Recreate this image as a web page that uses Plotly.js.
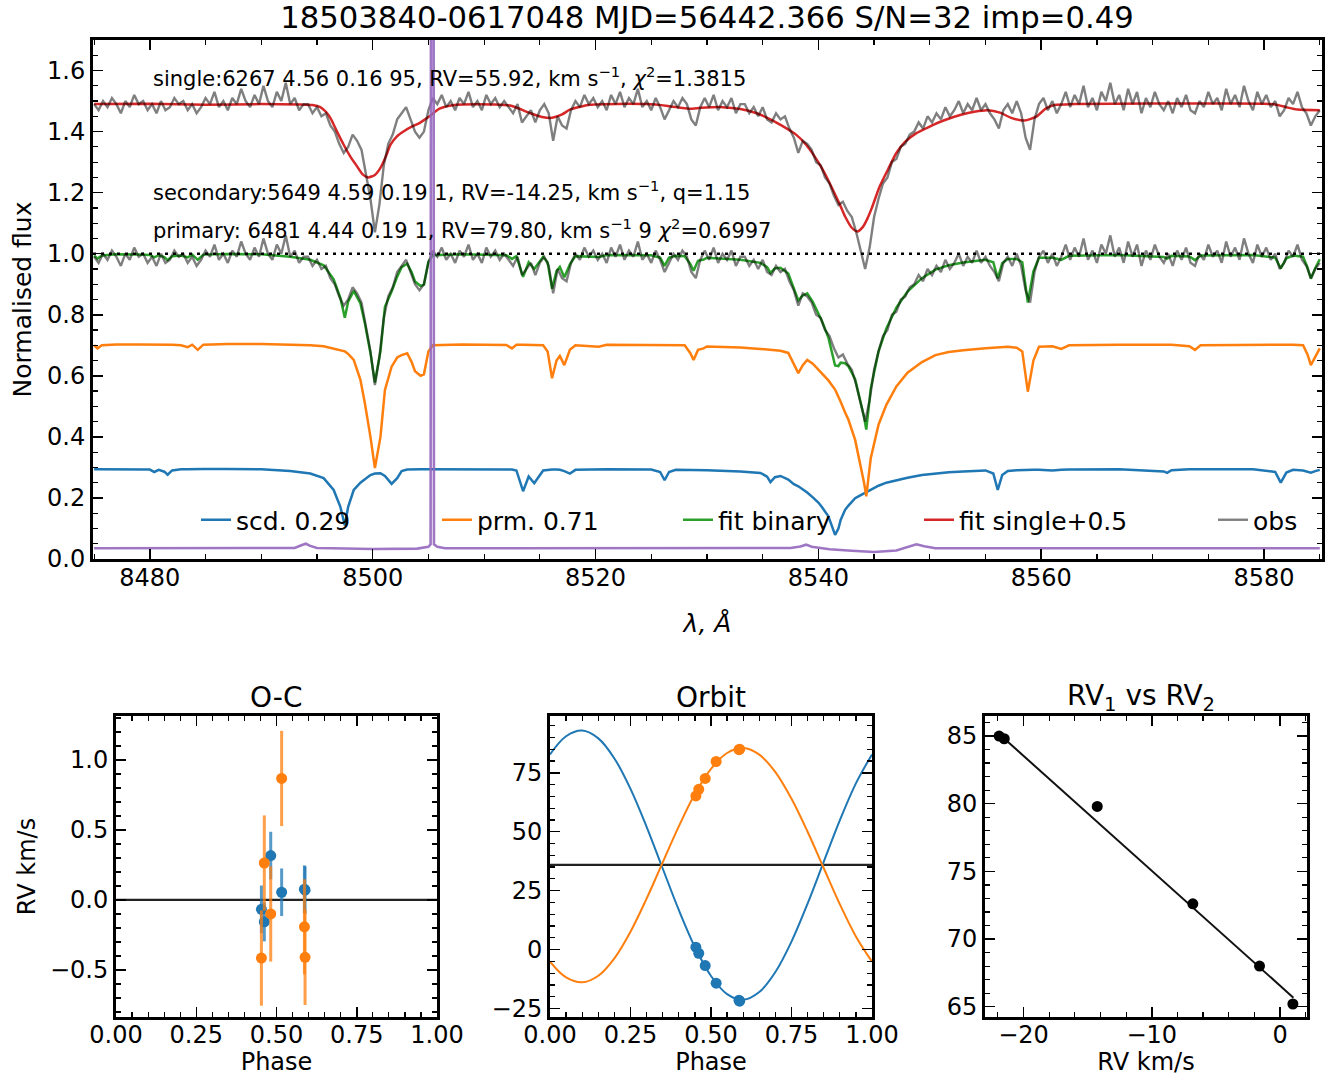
<!DOCTYPE html>
<html><head><meta charset="utf-8">
<script src="https://cdn.plot.ly/plotly-3.0.1.min.js"></script>
<style>html,body{margin:0;padding:0;background:#fff}#chart{width:1333px;height:1076px}</style>
</head><body><div id="chart"></div>
<script>
// ================= DATA =================
const titleText = '18503840-0617048 MJD=56442.366 S/N=32 imp=0.49';

// model wavelength grid (Angstrom) shared by the two component spectra
const modelLam = [
8475.0,8475.3,8475.7,8477.0,8479.0,8480.0,8480.4,8480.8,8481.3,8481.6,
8482.0,8482.8,8483.4,8483.8,8484.3,8484.8,8487.0,8490.0,8492.6,8494.4,
8495.6,8496.5,8497.1,8497.5,8497.8,8498.3,8498.9,8499.3,8499.8,8500.2,
8500.7,8501.1,8501.7,8502.2,8502.6,8503.1,8503.5,8503.8,8504.3,8504.6,
8505.0,8505.4,8508.0,8512.0,8512.5,8512.9,8513.5,8514.0,8514.5,8515.3,
8515.7,8516.1,8516.5,8516.8,8517.2,8517.7,8518.2,8520.3,8521.0,8525.0,
8525.8,8526.2,8526.6,8527.2,8528.0,8528.5,8528.8,8529.2,8529.7,8530.0,
8533.0,8534.8,8535.4,8535.7,8536.1,8536.6,8537.3,8537.8,8538.2,8538.6,
8539.0,8539.5,8540.0,8540.3,8540.9,8541.5,8541.8,8542.0,8542.4,8542.7,
8543.3,8543.6,8544.1,8544.3,8544.7,8545.4,8546.1,8547.0,8548.0,8549.3,
8550.5,8551.7,8553.0,8555.0,8555.7,8556.1,8556.5,8557.0,8557.8,8558.3,
8558.8,8559.3,8559.8,8561.0,8561.8,8562.5,8567.0,8571.0,8571.3,8571.7,
8573.3,8573.8,8574.3,8579.0,8581.0,8581.5,8582.0,8582.6,8583.5,8583.9,
8584.2,8584.6,8585.0];

// secondary component (weighted, scd. 0.29)
const scdFlux = [
0.294,0.294,0.294,0.295,0.294,0.293,0.285,0.292,0.286,0.276,
0.290,0.294,0.294,0.295,0.295,0.295,0.295,0.294,0.288,0.280,
0.265,0.226,0.171,0.110,0.171,0.226,0.250,0.262,0.275,0.280,
0.281,0.272,0.246,0.265,0.288,0.293,0.294,0.294,0.294,0.294,
0.294,0.295,0.295,0.294,0.293,0.290,0.222,0.270,0.248,0.290,
0.292,0.293,0.293,0.292,0.288,0.280,0.292,0.294,0.294,0.293,
0.285,0.258,0.285,0.292,0.292,0.292,0.292,0.292,0.291,0.291,
0.287,0.282,0.270,0.252,0.268,0.272,0.260,0.245,0.238,0.228,
0.218,0.202,0.185,0.171,0.140,0.079,0.100,0.128,0.161,0.175,
0.199,0.205,0.215,0.219,0.228,0.240,0.250,0.258,0.266,0.275,
0.280,0.284,0.287,0.290,0.280,0.226,0.275,0.288,0.291,0.292,
0.292,0.292,0.292,0.290,0.292,0.293,0.294,0.287,0.282,0.291,
0.294,0.294,0.294,0.294,0.285,0.250,0.283,0.292,0.290,0.285,
0.283,0.288,0.292];

// primary component (weighted, prm. 0.71)
const prmFlux = [
0.700,0.690,0.700,0.703,0.703,0.703,0.703,0.703,0.703,0.703,
0.702,0.700,0.694,0.702,0.685,0.702,0.704,0.704,0.702,0.700,
0.697,0.690,0.684,0.680,0.672,0.652,0.587,0.510,0.400,0.298,
0.400,0.554,0.630,0.660,0.668,0.674,0.645,0.615,0.600,0.605,
0.680,0.700,0.703,0.701,0.690,0.702,0.702,0.702,0.702,0.700,
0.680,0.592,0.650,0.665,0.635,0.685,0.700,0.695,0.702,0.702,
0.702,0.702,0.702,0.701,0.700,0.675,0.652,0.685,0.690,0.696,
0.693,0.688,0.686,0.685,0.684,0.682,0.675,0.640,0.609,0.635,
0.652,0.640,0.620,0.610,0.585,0.555,0.532,0.515,0.480,0.456,
0.390,0.340,0.250,0.205,0.330,0.440,0.505,0.565,0.610,0.645,
0.668,0.678,0.684,0.690,0.692,0.693,0.694,0.695,0.692,0.680,
0.548,0.650,0.695,0.697,0.688,0.700,0.702,0.702,0.702,0.702,
0.697,0.685,0.700,0.702,0.702,0.702,0.702,0.702,0.700,0.670,
0.635,0.665,0.690];

// single-star fit, shown shifted by +0.5
const singleLam = [
8475.0,8480.0,8485.0,8490.0,8493.5,8494.6,8495.3,8495.8,8496.2,8496.8,
8497.4,8498.0,8498.6,8499.1,8499.6,8500.2,8500.7,8501.2,8501.6,8502.2,
8502.8,8503.5,8504.2,8505.1,8506.0,8507.5,8511.0,8512.5,8514.1,8515.2,
8516.1,8517.0,8517.7,8519.5,8524.6,8526.5,8528.4,8529.5,8531.4,8533.0,
8534.4,8535.6,8536.8,8538.0,8538.9,8539.6,8540.3,8540.9,8541.5,8542.0,
8542.4,8543.0,8543.5,8544.0,8544.4,8544.8,8545.5,8546.3,8547.0,8547.8,
8548.8,8549.9,8551.3,8552.8,8554.0,8555.2,8556.3,8557.3,8558.5,8559.6,
8560.4,8561.2,8563.0,8570.0,8575.0,8580.0,8581.0,8582.0,8583.0,8585.0];
const singleFlux = [
1.490,1.491,1.488,1.490,1.489,1.487,1.480,1.465,1.445,1.400,
1.357,1.318,1.286,1.260,1.250,1.258,1.281,1.320,1.357,1.385,
1.401,1.416,1.428,1.450,1.475,1.488,1.489,1.484,1.461,1.448,
1.445,1.456,1.472,1.488,1.490,1.484,1.475,1.478,1.480,1.474,
1.461,1.442,1.418,1.390,1.357,1.322,1.281,1.240,1.194,1.155,
1.122,1.085,1.073,1.088,1.115,1.150,1.220,1.280,1.330,1.367,
1.395,1.415,1.437,1.455,1.465,1.470,1.462,1.445,1.436,1.450,
1.475,1.487,1.490,1.492,1.492,1.491,1.489,1.480,1.472,1.470];

// observed spectrum on a regular 0.4 A grid starting at 8475.0
const obsStart = 8475.0, obsStep = 0.4;
const obsFlux = [
0.99,0.97,1.00,0.98,1.01,0.99,0.96,1.00,0.98,1.02,
0.99,1.00,0.97,0.99,0.96,1.00,0.97,0.98,1.01,0.99,
1.00,0.97,0.99,0.96,0.98,1.01,0.99,1.03,0.98,1.00,
0.97,1.01,0.99,1.04,1.00,0.98,1.02,0.99,1.05,1.00,
0.98,1.03,1.00,1.06,0.99,1.01,0.97,0.99,
0.99,0.96,0.98,0.95,0.96,0.92,0.90,0.86,0.83,0.85,
0.89,0.87,0.84,0.76,0.68,0.57,0.66,0.79,0.86,0.89,
0.94,0.96,0.98,0.94,0.90,0.88,0.90,0.97,1.01,0.99,
1.02,
0.98,1.00,0.97,1.01,0.99,1.03,0.98,1.00,0.97,1.02,
0.99,1.01,0.98,1.00,0.98,0.96,0.99,0.93,0.95,0.97,
0.93,0.97,0.99,0.96,0.87,0.95,0.92,0.91,0.97,1.00,
0.98,1.02,0.99,1.01,0.98,1.00,0.97,1.02,0.99,1.03,
0.98,1.01,0.99,1.04,0.98,1.00,0.97,1.01,0.98,0.94,
0.97,1.00,0.98,1.01,0.99,0.94,0.92,0.98,1.01,0.98,
1.02,0.97,1.00,0.98,1.01,0.96,0.99,
0.99,0.96,0.98,0.95,0.98,0.94,0.93,0.96,0.94,0.95,
0.91,0.88,0.83,0.87,0.86,0.84,0.80,0.79,0.75,0.73,
0.69,0.66,0.67,0.64,0.62,0.57,0.51,0.45,0.52,0.62,
0.68,0.73,0.75,0.80,0.81,0.85,0.86,0.89,0.90,0.93,
0.91,0.95,0.93,0.96,0.94,0.98,0.95,0.97,1.00,0.96,
0.99,0.97,1.01,0.97,0.99,0.96,0.94,0.91,
0.97,0.99,0.96,1.00,0.96,0.88,0.84,0.94,0.99,1.01,
0.97,1.00,0.96,0.99,1.03,0.98,1.02,0.99,1.05,0.98,
1.01,0.97,1.03,1.00,1.06,0.99,1.02,0.97,1.04,0.99,
1.03,0.96,1.01,0.98,1.03,0.99,0.97,1.00,0.96,1.01,
0.98,1.02,0.97,0.96,1.00,0.98,1.03,0.99,1.01,0.97,
1.04,0.99,1.02,0.98,1.05,1.00,0.97,1.03,0.99,1.02,
0.98,1.00,0.95,0.97,1.01,0.99,1.03,0.98,0.96,0.92,
0.95,0.97];
const obsOffset = 0.5;

// purple mask / weight curve
const maskLam = [8475.0,8485.0,8493.0,8493.6,8494.0,8494.4,8495.0,8500.0,8504.0,8505.0,
8505.2,8505.25,8505.45,8505.5,8505.8,8506.5,8520.0,8537.5,8538.4,8538.9,
8539.4,8541.0,8543.0,8545.0,8547.0,8548.2,8548.8,8549.5,8550.5,8560.0,8585.0];
const maskFlux = [0.035,0.035,0.036,0.045,0.050,0.043,0.036,0.033,0.034,0.040,
0.048,3.0,3.0,0.048,0.040,0.035,0.035,0.036,0.041,0.047,
0.040,0.032,0.027,0.023,0.028,0.042,0.048,0.042,0.035,0.035,0.035];

const legendNames = ['scd. 0.29','prm. 0.71','fit binary','fit single+0.5','obs'];
const noteSingle = 'single:6267 4.56 0.16 95, RV=55.92, km s<sup>−1</sup>, <i>χ</i><sup>2</sup>=1.3815';
const noteSecondary = 'secondary:5649 4.59 0.19 1, RV=-14.25, km s<sup>−1</sup>, q=1.15';
const notePrimary = 'primary: 6481 4.44 0.19 1, RV=79.80, km s<sup>−1</sup> 9 <i>χ</i><sup>2</sup>=0.6997';

// radial-velocity measurements
const obsPhase = [0.453,0.462,0.482,0.516,0.587,0.589];
const rvPrm = [65.2,68.0,72.6,79.8,84.8,85.0];
const rvScd = [1.0,-1.6,-6.8,-14.25,-21.5,-21.9];
const ocScd = [-0.067,-0.156,0.317,0.055,0.077,0.070];
const ocScdErr = [0.17,0.14,0.17,0.17,0.17,0.17];
const ocPrm = [-0.415,0.264,-0.100,0.868,-0.192,-0.410];
const ocPrmErr = [0.34,0.34,0.34,0.34,0.34,0.34];

// orbit curves
const orbitPhase = [0,0.05,0.10,0.15,0.20,0.25,0.30,0.35,0.40,0.45,0.50,0.55,0.60,0.65,0.70,0.75,0.80,0.85,0.90,0.95,1.00];
const orbitScd = [82.8,90.5,92.9,89.6,81.1,68.2,52.1,34.4,16.8,1.1,-11.2,-18.9,-21.3,-18.0,-9.5,3.4,19.5,37.2,54.8,70.5,82.8];
const orbitPrm = [-5.1,-11.8,-13.9,-11.1,-3.7,7.6,21.6,37.0,52.3,66.0,76.7,83.4,85.5,82.7,75.3,64.0,50.0,34.6,19.3,5.6,-5.1];
const gammaRV = 35.9;

// RV1 vs RV2 linear fit
const rvFitX = [-21.9, 1.04];
const rvFitY = [85.15, 65.67];

// ================= DRAWING =================
const W = 1333, H = 1076;
const C = {blue:'#1f77b4', orange:'#ff7f0e', green:'#2ca02c', red:'#d62728', purple:'rgba(148,103,189,0.9)', obs:'rgba(0,0,0,0.5)'};
const FONT = 'DejaVu Sans, Verdana, sans-serif';

const fitBinary = scdFlux.map((v,i) => v + prmFlux[i]);
const obsLam = obsFlux.map((_,i) => Math.round((obsStart + i*obsStep)*100)/100);
const obsTop = obsFlux.map(v => v + obsOffset);

const X0 = 8474.9, X1 = 8585.2;

const traces = [
  {x:modelLam, y:scdFlux, type:'scatter', mode:'lines', name:legendNames[0], legend:'legend', line:{color:C.blue, width:2.5}, xaxis:'x', yaxis:'y'},
  {x:modelLam, y:prmFlux, type:'scatter', mode:'lines', name:legendNames[1], legend:'legend', line:{color:C.orange, width:2.5}, xaxis:'x', yaxis:'y'},
  {x:modelLam, y:fitBinary, type:'scatter', mode:'lines', name:legendNames[2], legend:'legend', line:{color:C.green, width:2.5}, xaxis:'x', yaxis:'y'},
  {x:singleLam, y:singleFlux, type:'scatter', mode:'lines', name:legendNames[3], legend:'legend', line:{color:C.red, width:2.5, shape:'spline', smoothing:0.6}, xaxis:'x', yaxis:'y'},
  {x:obsLam, y:obsFlux, type:'scatter', mode:'lines', name:legendNames[4], legend:'legend2', line:{color:C.obs, width:2.4}, xaxis:'x', yaxis:'y'},
  {x:obsLam, y:obsTop, type:'scatter', mode:'lines', showlegend:false, line:{color:C.obs, width:2.4}, xaxis:'x', yaxis:'y'},
  {x:[X0, X1], y:[1,1], type:'scatter', mode:'lines', showlegend:false, line:{color:'#000', width:2.4, dash:'3px,5px'}, xaxis:'x', yaxis:'y'},
  {x:maskLam, y:maskFlux, type:'scatter', mode:'lines', showlegend:false, line:{color:C.purple, width:2.6}, xaxis:'x', yaxis:'y'},

  // O-C
  {x:[0,1], y:[0,0], type:'scatter', mode:'lines', showlegend:false, line:{color:'#222', width:2.2}, xaxis:'x2', yaxis:'y2'},
  {x:obsPhase, y:ocScd, type:'scatter', mode:'markers', showlegend:false, marker:{color:C.blue, size:11},
   error_y:{type:'data', array:ocScdErr, visible:true, thickness:3, width:0, color:'rgba(31,119,180,0.75)'}, xaxis:'x2', yaxis:'y2'},
  {x:obsPhase, y:ocPrm, type:'scatter', mode:'markers', showlegend:false, marker:{color:C.orange, size:11},
   error_y:{type:'data', array:ocPrmErr, visible:true, thickness:3, width:0, color:'rgba(255,127,14,0.75)'}, xaxis:'x2', yaxis:'y2'},

  // Orbit
  {x:[0,1], y:[gammaRV,gammaRV], type:'scatter', mode:'lines', showlegend:false, line:{color:'#222', width:2.2}, xaxis:'x3', yaxis:'y3'},
  {x:orbitPhase, y:orbitScd, type:'scatter', mode:'lines', showlegend:false, line:{color:C.blue, width:2, shape:'spline', smoothing:1}, xaxis:'x3', yaxis:'y3'},
  {x:orbitPhase, y:orbitPrm, type:'scatter', mode:'lines', showlegend:false, line:{color:C.orange, width:2, shape:'spline', smoothing:1}, xaxis:'x3', yaxis:'y3'},
  {x:obsPhase, y:rvScd, type:'scatter', mode:'markers', showlegend:false, marker:{color:C.blue, size:11}, xaxis:'x3', yaxis:'y3'},
  {x:obsPhase, y:rvPrm, type:'scatter', mode:'markers', showlegend:false, marker:{color:C.orange, size:11}, xaxis:'x3', yaxis:'y3'},

  // RV1 vs RV2
  {x:rvFitX, y:rvFitY, type:'scatter', mode:'lines', showlegend:false, line:{color:'#111', width:2}, xaxis:'x4', yaxis:'y4'},
  {x:rvScd, y:rvPrm, type:'scatter', mode:'markers', showlegend:false, marker:{color:'#000', size:11}, xaxis:'x4', yaxis:'y4'}
];

const MINOR = {ticks:'inside', ticklen:5, tickwidth:1.2, tickcolor:'#000', showgrid:false};
function ax(extra){
  return Object.assign({
    showline:true, linecolor:'#000', linewidth:3, mirror:'allticks',
    ticks:'inside', ticklen:10, tickwidth:1.5, tickcolor:'#000',
    showgrid:false, zeroline:false,
    tickfont:{family:FONT, size:24, color:'#000'}
  }, extra);
}
function mn(t0, dt){ return Object.assign({}, MINOR, {tick0:t0, dtick:dt}); }
function ttl(t, size, standoff){ const o = {text:t, font:{family:FONT, size:size||25, color:'#000'}}; if (standoff!==undefined) o.standoff = standoff; return o; }

const legendCommon = {orientation:'h', yanchor:'middle', font:{family:FONT, size:25, color:'#000'}, bgcolor:'rgba(0,0,0,0)', borderwidth:0, traceorder:'normal'};

const layout = {
  width:W, height:H, margin:{l:0,r:0,t:0,b:0},
  paper_bgcolor:'#fff', plot_bgcolor:'#fff',
  font:{family:FONT, color:'#000'},
  title:{text:titleText, font:{family:FONT, size:30.7, color:'#000'}, x:707/W, xanchor:'center', xref:'paper', y:1-17/H, yanchor:'middle', yref:'container'},
  showlegend:true,
  legend: Object.assign({}, legendCommon, {x:196/W, xanchor:'left', y:1-520/H, entrywidth:196, entrywidthmode:'pixels'}),
  legend2: Object.assign({}, legendCommon, {x:1213/W, xanchor:'left', y:1-520/H}),
  xaxis: ax({domain:[93/W,1322/W], anchor:'y', range:[X0,X1], tick0:8480, dtick:20, ticklabelstandoff:-5,
             minor:mn(8480,5), title:ttl('<i>λ, Å</i>', 25, 24)}),
  yaxis: ax({domain:[1-559/H,1-40/H], anchor:'x', range:[0,1.7], tick0:0, dtick:0.2, tickformat:'.1f',
             minor:mn(0,0.05), title:ttl('Normalised flux', 25)}),
  xaxis2: ax({domain:[116/W,437/W], anchor:'y2', range:[0,1], tick0:0, dtick:0.25, tickformat:'.2f', ticklabelstandoff:-6,
             minor:mn(0,0.05), title:ttl('Phase',24)}),
  yaxis2: ax({domain:[1-1017/H,1-716/H], anchor:'x2', range:[-0.836,1.314], tick0:0, dtick:0.5, tickformat:'.1f',
             minor:mn(0,0.1), title:ttl('RV km/s',24, 8)}),
  xaxis3: ax({domain:[550/W,872/W], anchor:'y3', range:[0,1], tick0:0, dtick:0.25, tickformat:'.2f', ticklabelstandoff:-6,
             minor:mn(0,0.05), title:ttl('Phase',24)}),
  yaxis3: ax({domain:[1-1017/H,1-716/H], anchor:'x3', range:[-28.6,99.1], tick0:0, dtick:25,
             minor:mn(0,5)}),
  xaxis4: ax({domain:[985/W,1307/W], anchor:'y4', range:[-23.0,2.1], tick0:0, dtick:10, ticklabelstandoff:-6,
             minor:mn(0,2), title:ttl('RV km/s',24)}),
  yaxis4: ax({domain:[1-1017/H,1-716/H], anchor:'x4', range:[64.24,86.48], tick0:65, dtick:5,
             minor:mn(65,1)}),
  annotations:[
    {text:noteSingle, xref:'x', yref:'y', x:8480.1, y:1.58, xanchor:'left', yanchor:'middle', showarrow:false, font:{family:FONT, size:21, color:'#000'}},
    {text:noteSecondary, xref:'x', yref:'y', x:8480.1, y:1.207, xanchor:'left', yanchor:'middle', showarrow:false, font:{family:FONT, size:21, color:'#000'}},
    {text:notePrimary, xref:'x', yref:'y', x:8480.1, y:1.082, xanchor:'left', yanchor:'middle', showarrow:false, font:{family:FONT, size:21, color:'#000'}},
    {text:'O-C', xref:'paper', yref:'paper', x:276/W, y:1-697/H, xanchor:'center', yanchor:'middle', showarrow:false, font:{family:FONT, size:28, color:'#000'}},
    {text:'Orbit', xref:'paper', yref:'paper', x:711/W, y:1-697/H, xanchor:'center', yanchor:'middle', showarrow:false, font:{family:FONT, size:28, color:'#000'}},
    {text:'RV<sub>1</sub> vs RV<sub>2</sub>', xref:'paper', yref:'paper', x:1141/W, y:1-697/H, xanchor:'center', yanchor:'middle', showarrow:false, font:{family:FONT, size:28, color:'#000'}}
  ]
};

Plotly.newPlot('chart', traces, layout, {displayModeBar:false, staticPlot:true});
</script>
</body></html>
